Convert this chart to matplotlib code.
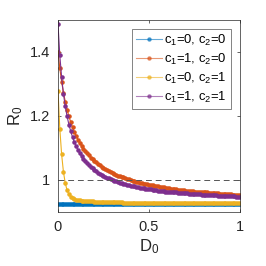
import matplotlib

matplotlib.use("Agg")
import matplotlib.pyplot as plt

plt.rcParams["font.family"] = ["Liberation Sans", "DejaVu Sans"]
plt.rcParams["mathtext.fontset"] = "custom"
plt.rcParams["mathtext.rm"] = "Liberation Sans"
plt.rcParams["mathtext.it"] = "Liberation Sans"

# D0 grid, step 0.01
D0 = [round(0.01 * i, 2) for i in range(101)]

R0_c00 = [0.926] * 101

R0_c10 = [
    1.400, 1.349, 1.307, 1.273, 1.245, 1.220, 1.199, 1.181, 1.165, 1.150,
    1.138, 1.126, 1.116, 1.107, 1.098, 1.090, 1.083, 1.077, 1.070, 1.065,
    1.060, 1.055, 1.050, 1.046, 1.042, 1.038, 1.034, 1.031, 1.028, 1.025,
    1.022, 1.019, 1.017, 1.014, 1.012, 1.010, 1.008, 1.006, 1.004, 1.002,
    1.000, 0.998, 0.997, 0.995, 0.993, 0.992, 0.991, 0.989, 0.988, 0.987,
    0.985, 0.984, 0.983, 0.982, 0.981, 0.980, 0.979, 0.978, 0.977, 0.976,
    0.975, 0.974, 0.973, 0.973, 0.972, 0.971, 0.970, 0.970, 0.969, 0.968,
    0.967, 0.967, 0.966, 0.966, 0.965, 0.964, 0.964, 0.963, 0.963, 0.962,
    0.962, 0.961, 0.961, 0.960, 0.960, 0.959, 0.959, 0.958, 0.958, 0.957,
    0.957, 0.956, 0.956, 0.956, 0.955, 0.955, 0.954, 0.954, 0.954, 0.953,
    0.953,
]

R0_c01 = [
    1.279, 1.160, 1.080, 1.025, 0.990, 0.968, 0.955, 0.948, 0.943, 0.940,
    0.938, 0.937, 0.936, 0.935, 0.935, 0.934, 0.934, 0.933, 0.933, 0.933,
    0.932, 0.932, 0.932, 0.931, 0.931, 0.931, 0.931, 0.931, 0.930, 0.930,
    0.930, 0.930, 0.930, 0.930, 0.930, 0.930, 0.929, 0.929, 0.929, 0.929,
    0.929, 0.929, 0.929, 0.929, 0.929, 0.929, 0.929, 0.929, 0.929, 0.929,
    0.929, 0.928, 0.928, 0.928, 0.928, 0.928, 0.928, 0.928, 0.928, 0.928,
    0.928, 0.928, 0.928, 0.928, 0.928, 0.928, 0.928, 0.928, 0.928, 0.928,
    0.928, 0.928, 0.928, 0.928, 0.928, 0.928, 0.928, 0.927, 0.927, 0.927,
    0.927, 0.927, 0.927, 0.927, 0.927, 0.927, 0.927, 0.927, 0.927, 0.927,
    0.927, 0.927, 0.927, 0.927, 0.927, 0.927, 0.927, 0.927, 0.927, 0.927,
    0.927,
]

R0_c11 = [
    1.487, 1.389, 1.321, 1.269, 1.230, 1.199, 1.173, 1.152, 1.134, 1.118,
    1.105, 1.094, 1.083, 1.074, 1.066, 1.059, 1.052, 1.046, 1.041, 1.036,
    1.031, 1.027, 1.023, 1.019, 1.016, 1.013, 1.010, 1.007, 1.005, 1.002,
    1.000, 0.998, 0.996, 0.994, 0.992, 0.990, 0.988, 0.987, 0.985, 0.984,
    0.982, 0.981, 0.980, 0.979, 0.978, 0.976, 0.975, 0.974, 0.973, 0.972,
    0.971, 0.971, 0.970, 0.969, 0.968, 0.967, 0.967, 0.966, 0.965, 0.964,
    0.964, 0.963, 0.963, 0.962, 0.961, 0.961, 0.960, 0.960, 0.959, 0.959,
    0.958, 0.958, 0.957, 0.957, 0.956, 0.956, 0.956, 0.955, 0.955, 0.954,
    0.954, 0.954, 0.953, 0.953, 0.953, 0.952, 0.952, 0.952, 0.951, 0.951,
    0.951, 0.950, 0.950, 0.950, 0.949, 0.949, 0.949, 0.949, 0.948, 0.948,
    0.948,
]

labels = [
    r"c$_1$=0, c$_2$=0",
    r"c$_1$=1, c$_2$=0",
    r"c$_1$=0, c$_2$=1",
    r"c$_1$=1, c$_2$=1",
]
colors = ["#0072BD", "#D95319", "#EDB120", "#7E2F8E"]

fig = plt.figure(figsize=(2.66, 2.66), dpi=100)
ax = fig.add_axes([0.218, 0.203, 0.684, 0.722])

for series, label, color in zip([R0_c00, R0_c10, R0_c01, R0_c11], labels, colors):
    ax.plot(D0, series, color=color, marker=".", markersize=4.5, linewidth=0.8, label=label)

ax.axhline(1.0, color="#555555", linestyle=(0, (6, 4)), linewidth=0.7)

ax.set_xlim(0, 1)
ax.set_ylim(0.9, 1.5)
ax.set_xticks([0, 0.5, 1])
ax.set_xticklabels(["0", "0.5", "1"])
ax.set_yticks([1, 1.2, 1.4])
ax.set_yticklabels(["1", "1.2", "1.4"])
ax.tick_params(direction="in", top=True, right=True, length=2.5, width=0.5,
               labelsize=10.5, colors="#262626", pad=6)
for spine in ax.spines.values():
    spine.set_color("#262626")
    spine.set_linewidth(0.5)

ax.set_xlabel(r"D$_0$", fontsize=12, color="#262626", labelpad=2)
ax.set_ylabel(r"R$_0$", fontsize=12, color="#262626", labelpad=3)

leg = ax.legend(loc="upper right", fontsize=9.4, handlelength=2.0, handletextpad=0.2,
                borderpad=0.3, labelspacing=0.3, fancybox=False,
                bbox_to_anchor=(0.95, 0.953), borderaxespad=0)
leg.get_frame().set_edgecolor("#262626")
leg.get_frame().set_linewidth(0.5)
for handle in leg.legend_handles:
    handle.set_alpha(0.6)

fig.savefig("out.png", dpi=100)
